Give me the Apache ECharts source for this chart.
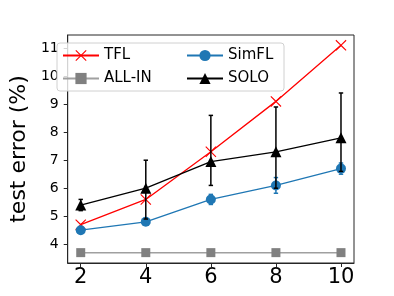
<!DOCTYPE html>
<html>
<head>
<meta charset="utf-8">
<script src="https://cdn.jsdelivr.net/npm/echarts@6/dist/echarts.min.js"></script>
<style>html,body{margin:0;padding:0;background:#fff}#c{width:394px;height:296px}</style>
</head>
<body>
<div id="c"></div>
<script>
var xVals = [2, 4, 6, 8, 10];
var xTicks = [2, 4, 6, 8, 10];
var yTicks = [4, 5, 6, 7, 8, 9, 10, 11];
var tfl = [4.7, 5.6, 7.3, 9.1, 11.1];
var allIn = [3.7, 3.7, 3.7, 3.7, 3.7];
var simfl = [4.5, 4.8, 5.6, 6.1, 6.7];
var simflErr = [0.1, 0.1, 0.18, 0.28, 0.2];
var solo = [5.4, 6.0, 6.95, 7.3, 7.8];
var soloLow = [5.2, 4.9, 6.1, 6.0, 6.6];
var soloHigh = [5.6, 7.0, 8.6, 8.9, 9.4];

var FONT = 'DejaVu Sans';
function pairs(ys) { return xVals.map(function (x, i) { return [x, ys[i]]; }); }
function errData(lo, hi) { return xVals.map(function (x, i) { return [x, lo[i], hi[i]]; }); }
function errRender(color) {
  return function (params, api) {
    var x = api.value(0);
    var p1 = api.coord([x, api.value(1)]);
    var p2 = api.coord([x, api.value(2)]);
    var cw = 2.2;
    var st = { stroke: color, lineWidth: 1.5 };
    return {
      type: 'group',
      children: [
        { type: 'line', shape: { x1: p1[0], y1: p1[1], x2: p2[0], y2: p2[1] }, style: st },
        { type: 'line', shape: { x1: p1[0] - cw, y1: p1[1], x2: p1[0] + cw, y2: p1[1] }, style: st },
        { type: 'line', shape: { x1: p2[0] - cw, y1: p2[1], x2: p2[0] + cw, y2: p2[1] }, style: st }
      ]
    };
  };
}
var xSym = 'path://M0,1.4L1.4,0L10,8.6L18.6,0L20,1.4L11.4,10L20,18.6L18.6,20L10,11.4L1.4,20L0,18.6L8.6,10Z';

var chart = echarts.init(document.getElementById('c'), null, { renderer: 'canvas' });
chart.setOption({
  animation: false,
  textStyle: { fontFamily: FONT },
  grid: { left: 49, right: 40, top: 35, bottom: 33, show: true, borderColor: '#262626', borderWidth: 1, backgroundColor: 'transparent' },
  xAxis: {
    type: 'value', min: 1.6, max: 10.4,
    axisLine: { show: true, lineStyle: { color: '#262626' } },
    axisTick: { show: true, length: 4, customValues: xTicks, lineStyle: { color: '#262626' } },
    axisLabel: { customValues: xTicks, fontSize: 21, color: '#000', fontFamily: FONT, margin: 4 },
    splitLine: { show: false }
  },
  yAxis: {
    type: 'value', min: 3.33, max: 11.47,
    name: 'test error (%)', nameLocation: 'middle', nameGap: 33,
    nameTextStyle: { fontSize: 22, color: '#000', fontFamily: FONT },
    axisLine: { show: true, lineStyle: { color: '#262626' } },
    axisTick: { show: true, length: 4, customValues: yTicks, lineStyle: { color: '#262626' } },
    axisLabel: { customValues: yTicks, fontSize: 14, color: '#000', fontFamily: FONT, margin: 9 },
    splitLine: { show: false }
  },
  legend: {
    orient: 'vertical', left: 57, top: 43, height: 46,
    padding: [5, 6, 5, 5], itemGap: 8, itemWidth: 36, itemHeight: 14,
    backgroundColor: 'rgba(255,255,255,0.8)', borderColor: '#d0d0d0', borderWidth: 1, borderRadius: 3,
    textStyle: { fontSize: 15, color: '#000', fontFamily: FONT, lineHeight: 15 },
    data: [
      { name: 'TFL', textStyle: { width: 74 } },
      { name: 'ALL-IN', textStyle: { width: 74 } },
      { name: 'SimFL', textStyle: { width: 50 } },
      { name: 'SOLO', textStyle: { width: 50 } }
    ]
  },
  series: [
    { name: 'TFL', type: 'line', data: pairs(tfl), z: 2, symbol: xSym, symbolSize: 11,
      color: '#ff0000', lineStyle: { width: 1.3, color: '#ff0000' }, itemStyle: { color: '#ff0000' } },
    { name: 'ALL-IN', type: 'line', data: pairs(allIn), z: 3, symbol: 'rect', symbolSize: 9,
      color: '#808080', lineStyle: { width: 1.5, color: '#a0a0a0' }, itemStyle: { color: '#808080' } },
    { name: 'SimFL-err', type: 'custom', z: 4, data: errData(simfl.map(function (v, i) { return v - simflErr[i]; }), simfl.map(function (v, i) { return v + simflErr[i]; })),
      renderItem: errRender('#1f77b4'), encode: { x: 0, y: [1, 2] } },
    { name: 'SimFL', type: 'line', data: pairs(simfl), z: 5, symbol: 'circle', symbolSize: 10,
      color: '#1f77b4', lineStyle: { width: 1.3, color: '#1f77b4' }, itemStyle: { color: '#1f77b4' } },
    { name: 'SOLO-err', type: 'custom', z: 6, data: errData(soloLow, soloHigh),
      renderItem: errRender('#000000'), encode: { x: 0, y: [1, 2] } },
    { name: 'SOLO', type: 'line', data: pairs(solo), z: 7, symbol: 'triangle', symbolSize: 11,
      color: '#000000', lineStyle: { width: 1.3, color: '#000000' }, itemStyle: { color: '#000000' } }
  ]
});
</script>
</body>
</html>
